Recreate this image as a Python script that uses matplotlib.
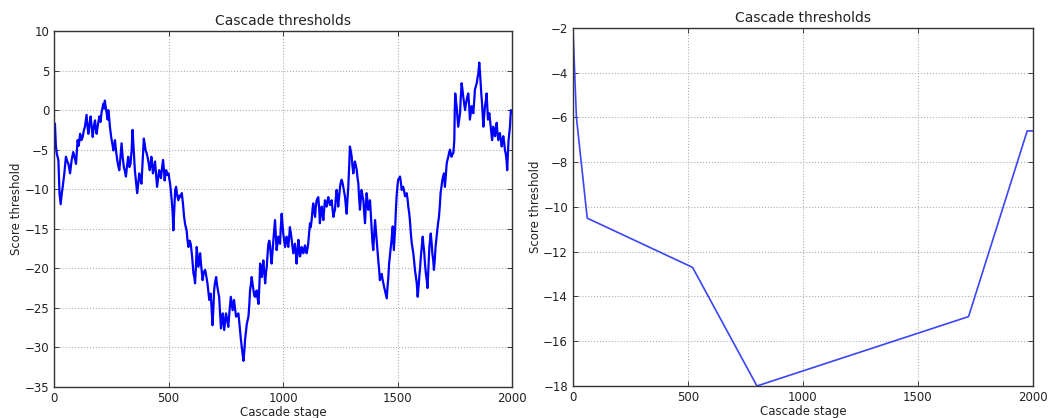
import matplotlib
matplotlib.use("Agg")
import matplotlib.pyplot as plt
import numpy as np

# left panel: noisy threshold trace (stage, score)
left_stage = [
	0, 4, 8, 12, 19, 24, 29, 34, 38, 45, 52, 58, 63, 70, 77, 84, 90, 96, 103, 108,
	114, 120, 125, 130, 135, 142, 146, 150, 155, 160, 165, 169, 174, 179, 183, 186, 192, 198, 203, 208,
	212, 215, 219, 222, 226, 230, 234, 237, 241, 244, 250, 255, 259, 263, 266, 271, 276, 280, 285, 290,
	295, 300, 305, 310, 314, 319, 324, 329, 334, 339, 343, 348, 353, 358, 363, 367, 372, 377, 382, 387,
	392, 396, 400, 405, 411, 415, 418, 422, 425, 429, 432, 437, 441, 445, 450, 455, 459, 463, 467, 471,
	476, 480, 483, 487, 490, 495, 500, 504, 507, 511, 514, 518, 521, 525, 529, 533, 538, 543, 548, 553,
	558, 563, 568, 573, 579, 583, 587, 592, 597, 603, 609, 612, 616, 620, 623, 627, 630, 634, 638, 643,
	649, 654, 660, 665, 670, 674, 678, 684, 688, 692, 696, 699, 703, 708, 713, 717, 721, 725, 729, 733,
	737, 740, 743, 747, 751, 756, 761, 766, 772, 776, 780, 786, 790, 795, 800, 805, 809, 812, 816, 820,
	824, 827, 831, 834, 838, 842, 846, 849, 853, 856, 860, 863, 867, 871, 875, 878, 882, 885, 889, 893,
	897, 900, 904, 907, 911, 914, 918, 922, 926, 929, 933, 936, 940, 943, 947, 950, 954, 958, 962, 965,
	969, 972, 976, 979, 983, 987, 990, 994, 998, 1001, 1005, 1009, 1012, 1016, 1020, 1023, 1027, 1030, 1034, 1038,
	1041, 1045, 1049, 1052, 1056, 1059, 1063, 1067, 1070, 1074, 1078, 1081, 1085, 1089, 1092, 1096, 1100, 1103, 1107, 1110,
	1114, 1118, 1121, 1125, 1129, 1132, 1136, 1140, 1143, 1147, 1150, 1154, 1158, 1161, 1165, 1169, 1172, 1176, 1180, 1183,
	1187, 1190, 1194, 1198, 1201, 1205, 1209, 1212, 1216, 1220, 1223, 1227, 1230, 1234, 1238, 1241, 1245, 1249, 1252, 1256,
	1260, 1263, 1267, 1271, 1274, 1278, 1281, 1285, 1289, 1292, 1296, 1300, 1303, 1307, 1310, 1314, 1318, 1322, 1325, 1329,
	1332, 1336, 1340, 1343, 1347, 1351, 1354, 1358, 1361, 1365, 1369, 1372, 1376, 1380, 1383, 1387, 1390, 1394, 1398, 1402,
	1405, 1409, 1412, 1416, 1420, 1423, 1427, 1431, 1434, 1438, 1441, 1445, 1449, 1453, 1456, 1460, 1463, 1467, 1470, 1474,
	1479, 1484, 1490, 1493, 1496, 1500, 1503, 1507, 1511, 1515, 1518, 1522, 1525, 1529, 1533, 1537, 1540, 1544, 1547, 1551,
	1554, 1558, 1562, 1566, 1569, 1573, 1576, 1580, 1584, 1588, 1592, 1595, 1599, 1602, 1606, 1610, 1613, 1617, 1620, 1624,
	1628, 1631, 1635, 1639, 1642, 1645, 1649, 1652, 1656, 1659, 1663, 1666, 1670, 1674, 1677, 1681, 1685, 1688, 1692, 1696,
	1699, 1703, 1707, 1711, 1715, 1718, 1722, 1725, 1729, 1733, 1736, 1740, 1744, 1748, 1750, 1752, 1755, 1758, 1762, 1765,
	1769, 1773, 1776, 1780, 1784, 1787, 1791, 1795, 1798, 1802, 1805, 1809, 1813, 1816, 1820, 1824, 1827, 1831, 1835, 1838,
	1842, 1846, 1849, 1853, 1857, 1860, 1863, 1866, 1869, 1872, 1875, 1878, 1882, 1886, 1889, 1892, 1895, 1898, 1901, 1904,
	1907, 1910, 1913, 1916, 1918, 1922, 1926, 1929, 1933, 1936, 1940, 1944, 1947, 1951, 1955, 1958, 1962, 1966, 1969, 1973,
	1976, 1979, 1982, 1985, 1988, 1991, 1995, 1999,
]
left_score = [
	-1.8, -1.7, -4.5, -5.5, -6.3, -10.5, -11.9, -10.5, -9.7, -8.0, -5.9, -6.5, -6.8, -8.0, -6.3, -5.3, -6.0, -6.8, -3.8, -4.5,
	-3.0, -3.8, -3.4, -2.6, -2.1, -0.6, -2.0, -3.0, -1.8, -0.8, -2.4, -3.4, -2.0, -1.3, -2.5, -3.0, -1.8, -0.8, -1.5, -0.2,
	0.3, 0.8, 0.2, 1.2, 0.3, -0.4, -1.2, 0.0, -1.0, -2.1, -3.5, -4.3, -5.1, -4.5, -3.8, -5.2, -6.3, -7.0, -7.6, -6.0,
	-4.2, -6.0, -7.2, -7.8, -8.4, -7.0, -5.9, -7.2, -6.8, -5.0, -2.5, -5.0, -7.6, -9.0, -10.5, -9.5, -8.0, -8.8, -9.3, -6.5,
	-3.6, -4.3, -5.1, -5.5, -6.3, -7.0, -7.6, -6.8, -5.9, -7.0, -8.0, -7.2, -6.5, -8.0, -9.7, -8.5, -7.6, -8.0, -8.6, -7.5,
	-6.3, -7.5, -8.9, -8.0, -7.6, -8.2, -8.0, -8.8, -9.3, -10.5, -11.4, -13.0, -15.2, -12.5, -10.1, -9.7, -10.8, -11.4, -10.8, -11.0,
	-10.5, -11.8, -13.5, -14.5, -15.2, -16.5, -17.3, -16.5, -16.9, -18.5, -20.7, -21.0, -21.9, -19.5, -17.3, -18.5, -19.8, -19.0, -18.1, -19.8,
	-21.5, -20.5, -20.2, -21.0, -21.9, -23.0, -24.0, -23.2, -25.0, -27.2, -25.0, -22.8, -21.8, -21.1, -22.3, -23.0, -23.6, -25.5, -27.6, -26.5,
	-25.7, -26.8, -27.8, -26.8, -25.7, -26.5, -27.4, -25.5, -23.6, -24.5, -25.3, -24.0, -25.0, -26.1, -26.0, -25.7, -26.8, -27.8, -29.0, -30.0,
	-31.0, -31.7, -30.5, -29.1, -28.0, -27.0, -26.5, -26.1, -24.5, -22.8, -22.0, -21.1, -22.0, -22.8, -23.5, -23.6, -23.0, -22.8, -23.8, -24.5,
	-22.0, -19.4, -20.0, -21.1, -20.0, -19.0, -20.5, -21.9, -20.5, -19.8, -18.0, -16.9, -16.5, -17.0, -18.5, -19.4, -18.0, -16.4, -15.0, -13.9,
	-16.0, -17.7, -16.8, -16.0, -16.5, -16.9, -15.0, -13.1, -14.5, -15.6, -16.5, -17.3, -16.5, -16.0, -16.8, -17.3, -16.0, -14.8, -15.5, -16.4,
	-17.2, -18.1, -17.5, -16.9, -18.0, -19.4, -18.0, -16.4, -17.5, -18.5, -18.0, -17.3, -17.8, -18.1, -17.5, -17.1, -17.8, -18.1, -17.5, -16.9,
	-15.5, -14.3, -14.8, -13.9, -12.5, -11.8, -12.8, -13.5, -12.3, -11.4, -11.2, -11.0, -12.5, -14.3, -13.0, -12.2, -13.0, -13.9, -12.5, -11.4,
	-11.8, -12.2, -11.5, -11.0, -11.6, -12.0, -11.7, -11.4, -12.5, -13.5, -13.0, -12.6, -11.3, -10.1, -11.0, -12.2, -11.0, -9.7, -9.2, -8.8,
	-9.2, -9.7, -10.3, -11.0, -12.0, -13.1, -11.5, -9.7, -7.0, -4.6, -5.2, -5.9, -7.0, -8.0, -7.2, -6.5, -7.0, -7.6, -8.5, -9.3,
	-11.0, -12.6, -11.2, -10.1, -10.8, -11.4, -12.8, -14.3, -12.5, -10.5, -11.5, -12.6, -12.0, -11.4, -13.0, -15.2, -16.5, -17.7, -15.8, -13.9,
	-15.0, -16.4, -17.7, -19.0, -20.3, -21.5, -21.0, -20.7, -21.3, -21.9, -22.3, -22.8, -23.3, -23.8, -22.5, -21.1, -19.5, -18.3, -17.5, -16.4,
	-14.7, -17.7, -14.7, -12.5, -10.9, -9.5, -8.8, -8.6, -8.4, -9.2, -10.1, -9.8, -9.7, -10.3, -10.9, -10.7, -10.5, -11.3, -12.2, -13.0,
	-13.9, -15.5, -16.8, -17.5, -18.1, -19.2, -20.2, -21.0, -21.9, -23.6, -22.3, -21.1, -19.8, -18.5, -17.2, -16.0, -17.0, -18.1, -19.5, -20.7,
	-21.6, -22.5, -20.0, -17.3, -16.5, -15.6, -16.8, -18.1, -19.0, -20.2, -18.8, -17.3, -16.2, -15.2, -14.3, -13.5, -12.0, -10.5, -9.6, -8.8,
	-8.4, -8.0, -9.7, -8.2, -6.7, -6.3, -5.9, -5.4, -5.0, -5.5, -5.9, -5.6, -5.4, -3.8, 0.0, 2.1, 1.2, 0.5, -1.0, -2.1,
	-1.2, -0.4, 1.5, 3.4, 2.5, 1.7, 0.8, 0.0, 0.7, 1.3, 1.7, 2.1, 0.5, -1.2, -0.3, 0.5, 0.0, -0.4, 1.2, 2.6,
	3.0, 3.4, 4.0, 4.7, 6.0, 4.8, 3.4, 2.0, 0.9, -0.5, -2.1, -0.8, 0.5, 1.3, 2.1, 0.5, -1.2, -0.8, -0.4, -1.2,
	-2.1, -3.0, -3.8, -3.0, -2.1, -2.7, -3.3, -2.5, -1.6, -2.7, -3.8, -3.3, -2.9, -3.8, -4.6, -4.0, -3.3, -4.2, -5.0, -5.6,
	-6.3, -7.6, -5.5, -3.8, -3.0, -2.1, 0.0, -0.3,
]

# right panel: piecewise threshold curve
right_stage = [0, 15, 62, 520, 800, 1720, 1975, 2000]
right_score = [-2.0, -6.0, -10.5, -12.7, -18.0, -14.9, -6.6, -6.6]

TITLE = "Cascade thresholds"
XLABEL = "Cascade stage"
YLABEL = "Score threshold"
x_ticks = [0, 500, 1000, 1500, 2000]
left_yticks = np.arange(-35, 11, 5)
right_yticks = np.arange(-18, -1, 2)

plt.rcParams["font.family"] = "DejaVu Sans"
plt.rcParams["xtick.direction"] = "in"
plt.rcParams["ytick.direction"] = "in"
plt.rcParams["xtick.top"] = True
plt.rcParams["ytick.right"] = True


def style_axes(ax, yticks):
	ax.set_xlim(0, 2000)
	ax.set_ylim(yticks[0], yticks[-1])
	ax.set_xticks(x_ticks)
	ax.set_yticks(yticks)
	ax.tick_params(labelsize=8.5, colors="#222222", length=3.5, width=0.6)
	ax.grid(True, linestyle=":", color="#b0b0b0", linewidth=0.8)
	for spine in ax.spines.values():
		spine.set_color("#333333")
		spine.set_linewidth(1.0)
	ax.set_title(TITLE, fontsize=10, color="#222222", pad=4)
	ax.set_xlabel(XLABEL, fontsize=8.5, color="#222222", labelpad=1)
	ax.set_ylabel(YLABEL, fontsize=8.5, color="#222222", labelpad=1)


fig = plt.figure(figsize=(10.49, 4.18), dpi=100)
fig.patch.set_facecolor("white")

ax_left = fig.add_axes([0.0515, 0.0742, 0.4366, 0.8517])
ax_left.plot(left_stage, left_score, color="#0000ff", linewidth=1.6)
style_axes(ax_left, left_yticks)

ax_right = fig.add_axes([0.5462, 0.0766, 0.4385, 0.8565])
ax_right.plot(right_stage, right_score, color="#3b45f5", linewidth=1.2)
style_axes(ax_right, right_yticks)

fig.savefig("out.png", dpi=100, facecolor="white")
